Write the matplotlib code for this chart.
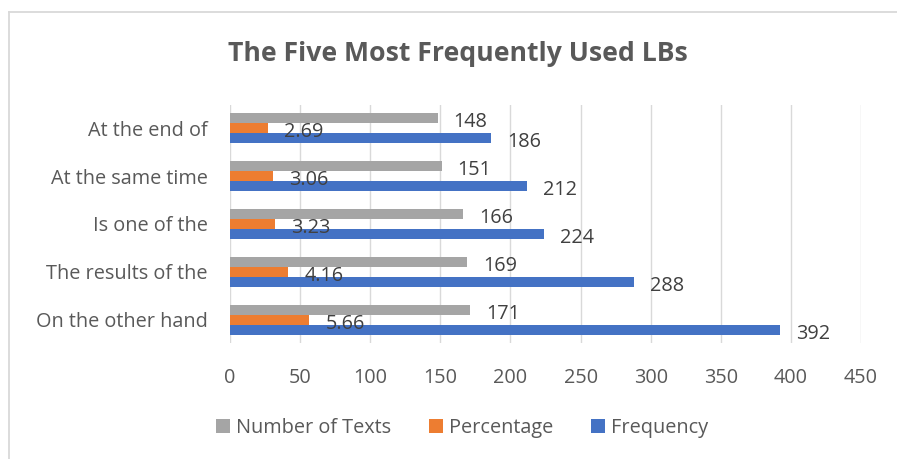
import matplotlib
matplotlib.use("Agg")
import matplotlib.pyplot as plt
from matplotlib.lines import Line2D
import numpy as np

categories = ["On the other hand", "The results of the", "Is one of the", "At the same time", "At the end of"]
number_of_texts = [171, 169, 166, 151, 148]
percentage = [5.66, 4.16, 3.23, 3.06, 2.69]
frequency = [392, 288, 224, 212, 186]
pct_bar_scale = 10  # percentage bars are drawn at 10x on the shared axis
xticks = [0, 50, 100, 150, 200, 250, 300, 350, 400, 450]

GRAY = "#A5A5A5"
ORANGE = "#ED7D31"
BLUE = "#4472C4"
TXT = "#595959"
FONT = ["Open Sans", "DejaVu Sans"]
plt.rcParams["font.family"] = FONT
FS = 14.3

fig = plt.figure(figsize=(8.97, 4.59), dpi=100)
ax = fig.add_axes([0.2564, 0.253, 0.7035, 0.518])

y = np.arange(len(categories))
w = 0.205
b1 = ax.barh(y + w, number_of_texts, height=w, color=GRAY, label="Number of Texts")
b2 = ax.barh(y, [p * pct_bar_scale for p in percentage], height=w, color=ORANGE, label="Percentage")
b3 = ax.barh(y - w, frequency, height=w, color=BLUE, label="Frequency")

def px_to_data(px):
    return px / 1.402

for bars, vals, fmt in [(b1, number_of_texts, "{:d}"), (b2, percentage, "{:.2f}"), (b3, frequency, "{:d}")]:
    for r, v in zip(bars, vals):
        ax.text(r.get_width() + px_to_data(16), r.get_y() + r.get_height() / 2 - 0.08,
                fmt.format(v), ha="left", va="center", fontsize=FS, color="#404040")

ax.set_xlim(0, 450)
ax.set_ylim(-0.48, 4.48)
ax.set_xticks(xticks)
ax.set_xticklabels([str(t) for t in xticks])
ax.set_yticks(y)
ax.set_yticklabels(categories)
ax.tick_params(axis="both", length=0, labelsize=FS, labelcolor=TXT)
ax.tick_params(axis="x", pad=18)
ax.tick_params(axis="y", pad=16)
ax.grid(axis="x", color="#D9D9D9", linewidth=1)
ax.set_axisbelow(True)
for s in ax.spines.values():
    s.set_visible(False)

fig.text(0.511, 0.883, "The Five Most Frequently Used LBs", ha="center", va="center",
         fontsize=19.2, fontweight="bold", color=TXT)

handles = [b1, b2, b3]
leg = fig.legend(handles, [h.get_label() for h in handles], loc="center", bbox_to_anchor=(0.515, 0.067),
                 ncol=3, frameon=False, fontsize=FS, handlelength=0.7, handleheight=0.7,
                 handletextpad=0.3, columnspacing=1.9)
for t in leg.get_texts():
    t.set_color(TXT)

# chart-area border (only left and top edges are visible in the crop)
fig.lines.append(Line2D([0.010, 0.010], [0.0, 0.974], transform=fig.transFigure, color="#D9D9D9", linewidth=1.3))
fig.lines.append(Line2D([0.010, 1.0], [0.974, 0.974], transform=fig.transFigure, color="#D9D9D9", linewidth=1.3))

fig.savefig("out.png", dpi=100)
